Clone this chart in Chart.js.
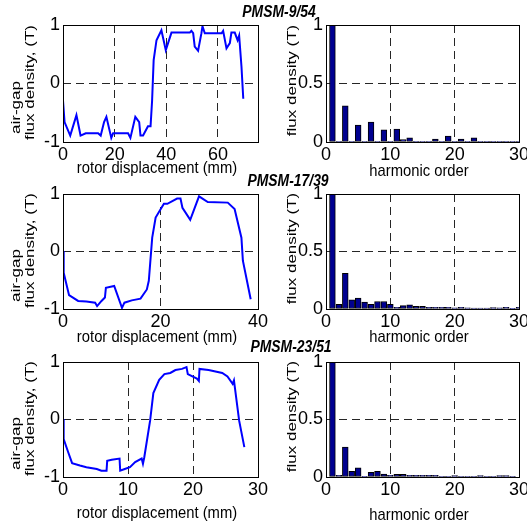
<!DOCTYPE html>
<html>
<head>
<meta charset="utf-8">
<script src="https://cdn.jsdelivr.net/npm/chart.js@4.4.0/dist/chart.umd.min.js"></script>
<style>
  body { margin: 0; background: #fff; }
  #fig { position: relative; width: 527px; height: 524px; }
  #fig canvas { position: absolute; left: 0; top: 0; }
</style>
</head>
<body>
<div id="fig">
  <canvas id="g1" width="527" height="524"></canvas>
  <canvas id="g2" width="527" height="524"></canvas>
  <canvas id="g3" width="527" height="524"></canvas>
  <canvas id="g4" width="527" height="524"></canvas>
  <canvas id="g5" width="527" height="524"></canvas>
  <canvas id="g6" width="527" height="524"></canvas>
</div>
<script>
// induction dans l'entrefer (T) selon le déplacement du rotor (mm)
const pos954 = [0, 0.6, 2.8, 5.2, 6.8, 8.8, 13.6, 14.6, 15.9, 16.8, 18.7, 19.4, 25.2, 26.1, 28.0, 29.5, 30.0, 31.0, 32.9, 33.9, 34.5, 35.1, 36.2, 38.1, 39.8, 42.0, 49.1, 49.7, 50.4, 51.0, 52.3, 53.6, 54.0, 54.9, 61.4, 62.0, 63.3, 64.6, 65.2, 66.5, 67.6, 68.2, 69.1, 69.8];
const flux954 = [-0.29, -0.66, -0.89, -0.54, -0.89, -0.85, -0.85, -0.89, -0.66, -0.57, -0.93, -0.85, -0.85, -0.93, -0.57, -0.66, -0.89, -0.89, -0.73, -0.73, -0.29, 0.40, 0.74, 0.91, 0.57, 0.87, 0.87, 0.90, 0.86, 0.63, 0.56, 0.86, 0.98, 0.86, 0.86, 0.90, 0.60, 0.69, 0.87, 0.87, 0.74, 0.82, 0.29, -0.26];

const pos1739 = [0, 0.14, 1.24, 3.1, 4.8, 6.6, 7.0, 7.9, 8.6, 8.8, 10.5, 12.1, 12.6, 14.1, 15.9, 17.2, 17.6, 18.3, 19.0, 20.7, 21.4, 23.4, 24.1, 24.5, 26.1, 27.9, 29.7, 33.8, 35.2, 36.6, 36.9, 38.5];
const flux1739 = [0.01, -0.37, -0.76, -0.86, -0.87, -0.89, -0.95, -0.86, -0.80, -0.63, -0.60, -0.98, -0.89, -0.85, -0.82, -0.66, -0.51, 0.24, 0.59, 0.83, 0.83, 0.92, 0.92, 0.76, 0.55, 0.96, 0.86, 0.85, 0.74, 0.24, -0.16, -0.83];

const pos2351 = [0, 0.1, 0.8, 1.4, 2.6, 3.6, 5.2, 5.9, 6.7, 6.8, 7.5, 8.7, 8.8, 9.5, 10.3, 11.1, 12.1, 12.3, 12.5, 13.4, 13.9, 14.8, 15.6, 16.5, 17.3, 18.3, 19.0, 19.2, 20.6, 20.9, 21.0, 22.4, 24.5, 25.3, 26.1, 26.3, 27.1, 27.9];
const flux2351 = [0.01, -0.34, -0.57, -0.76, -0.80, -0.83, -0.86, -0.89, -0.89, -0.72, -0.70, -0.68, -0.89, -0.86, -0.83, -0.74, -0.68, -0.77, -0.66, -0.02, 0.46, 0.69, 0.79, 0.81, 0.86, 0.88, 0.91, 0.79, 0.71, 0.67, 0.88, 0.86, 0.81, 0.75, 0.62, 0.68, -0.02, -0.48];

// spectre : amplitude (T) par rang d'harmonique
const rangs = [1, 2, 3, 4, 5, 6, 7, 8, 9, 10, 11, 12, 13, 14, 15, 16, 17, 18, 19, 20, 21, 22, 23, 24, 25, 26, 27, 28, 29, 30];
const harm954 = [1, 0.005, 0.31, 0.005, 0.145, 0.005, 0.17, 0.005, 0.105, 0.005, 0.11, 0.02, 0.035, 0.005, 0.005, 0.005, 0.025, 0.005, 0.05, 0.005, 0.025, 0.005, 0.035, 0.005, 0.005, 0.005, 0.005, 0.005, 0.005, 0.005];
const harm1739 = [1, 0.04, 0.31, 0.08, 0.095, 0.06, 0.04, 0.065, 0.065, 0.04, 0.015, 0.03, 0.037, 0.023, 0.023, 0.015, 0.015, 0.015, 0.015, 0.01, 0.015, 0.01, 0.008, 0.008, 0.008, 0.012, 0.01, 0.015, 0.006, 0.015];
const harm2351 = [1, 0.015, 0.26, 0.05, 0.08, 0.006, 0.04, 0.05, 0.025, 0.015, 0.023, 0.023, 0.015, 0.015, 0.015, 0.015, 0.015, 0.005, 0.005, 0.012, 0.005, 0.005, 0.005, 0.012, 0.005, 0.005, 0.012, 0.012, 0.005, 0];

// graduations
const gradDep954 = [0, 20, 40, 60];
const gradDep1739 = [0, 20, 40];
const gradDep2351 = [0, 10, 20, 30];
const gradFlux = [-1, 0, 1];
const gradRang = [0, 10, 20, 30];
const gradSpectre = [0, 0.5, 1];

const titres = ['PMSM-9/54', 'PMSM-17/39', 'PMSM-23/51'];

const LARGEUR = 527, HAUTEUR = 524;
const police = "'Liberation Sans Narrow', 'Liberation Sans', Arial, sans-serif";
const texteStd = "17px 'Liberation Sans', Arial, sans-serif";
const texteTitre = "italic bold 16px 'Liberation Sans', Arial, sans-serif";

// cadre noir autour du tracé + textes libres (labels, titres)
function calque(textes) {
  return {
    id: 'calque',
    afterDraw(chart) {
      const ctx = chart.ctx, a = chart.chartArea;
      ctx.save();
      ctx.strokeStyle = '#000';
      ctx.lineWidth = 1;
      ctx.strokeRect(a.left + 0.5, a.top + 0.5, a.right - a.left, a.bottom - a.top);
      ctx.fillStyle = '#000';
      ctx.textAlign = 'center';
      ctx.textBaseline = 'middle';
      textes.forEach(function(t) {
        ctx.save();
        ctx.font = t.font || texteStd;
        ctx.translate(t.x, t.y);
        // texte un peu étroit, comme sur la figure d'origine
        ctx.scale(t.vertical ? 0.8 : 0.87, 1);
        if (t.vertical) ctx.rotate(-Math.PI / 2);
        ctx.fillText(t.texte, 0, 0);
        ctx.restore();
      });
      ctx.restore();
    }
  };
}

function axe(min, max, grad, vertical, pad) {
  return {
    type: 'linear',
    min: min,
    max: max,
    offset: false,
    afterBuildTicks: function(s) { s.ticks = grad.map(v => ({ value: v })); },
    afterFit: function(s) {
      if (vertical) { s.width = 40; s.paddingTop = 0; s.paddingBottom = 0; }
      else { s.height = 40; s.paddingLeft = 0; s.paddingRight = 0; }
    },
    grid: {
      offset: false,
      drawTicks: false,
      lineWidth: 1,
      color: c => (c.tick && c.tick.value > min && c.tick.value < max) ? 'rgba(0,0,0,0.85)' : 'rgba(0,0,0,0)'
    },
    border: { display: false, dash: [8, 5] },
    ticks: {
      padding: pad,
      color: '#000',
      font: { family: police, size: 18 },
      autoSkip: false,
      maxRotation: 0,
      callback: v => String(v)
    }
  };
}

function options(zone, echX, echY) {
  return {
    responsive: false,
    animation: false,
    devicePixelRatio: 1,
    layout: { padding: { left: zone.g - 40, top: zone.h, right: LARGEUR - zone.d, bottom: HAUTEUR - zone.b - 40 } },
    plugins: { legend: { display: false }, tooltip: { enabled: false }, title: { display: false } },
    scales: { x: echX, y: echY }
  };
}

function courbe(id, zone, pos, flux, xmax, grad, textes) {
  const points = pos.map((x, i) => ({ x: x, y: flux[i] }));
  return new Chart(document.getElementById(id), {
    type: 'line',
    data: { datasets: [{ data: points, borderColor: '#0000ff', borderWidth: 2, pointRadius: 0, tension: 0, fill: false }] },
    options: options(zone, axe(0, xmax, grad, false, 2), axe(-1, 1, gradFlux, true, 3)),
    plugins: [calque(textes)]
  });
}

function spectre(id, zone, valeurs, textes) {
  const barres = rangs.map((r, i) => ({ x: r, y: valeurs[i] }));
  return new Chart(document.getElementById(id), {
    type: 'bar',
    data: { datasets: [{ data: barres, backgroundColor: '#000090', borderColor: '#000', borderWidth: 1,
                         barThickness: 5.8, borderSkipped: false }] },
    options: options(zone, axe(0, 30, gradRang, false, 2), axe(0, 1, gradSpectre, true, 3)),
    plugins: [calque(textes)]
  });
}

// une ligne de la figure : forme d'onde à gauche, spectre à droite
const lignes = [
  { h: 25, b: 142, pos: pos954, flux: flux954, xmax: 75.5, grad: gradDep954, harm: harm954, titre: titres[0], tx: 279, ty: 13, yDep: 168, yRang: 171 },
  { h: 194, b: 309, pos: pos1739, flux: flux1739, xmax: 40, grad: gradDep1739, harm: harm1739, titre: titres[1], tx: 288, ty: 182, yDep: 337, yRang: 337 },
  { h: 362, b: 477, pos: pos2351, flux: flux2351, xmax: 30, grad: gradDep2351, harm: harm2351, titre: titres[2], tx: 291, ty: 348, yDep: 513, yRang: 515 }
];

lignes.forEach(function(l, k) {
  const milieu = (l.h + l.b) / 2;
  courbe('g' + (2 * k + 1), { g: 63, d: 258, h: l.h, b: l.b }, l.pos, l.flux, l.xmax, l.grad, [
    { texte: 'air-gap', x: 16, y: milieu + 24, vertical: true },
    { texte: 'flux density, (T)', x: 30, y: milieu - 1, vertical: true },
    { texte: 'rotor displacement (mm)', x: 157, y: l.yDep }
  ]);
  spectre('g' + (2 * k + 2), { g: 326, d: 519, h: l.h, b: l.b }, l.harm, [
    { texte: 'flux density (T)', x: 292, y: milieu - 3, vertical: true },
    { texte: 'harmonic order', x: 419, y: l.yRang },
    { texte: l.titre, x: l.tx, y: l.ty, font: texteTitre }
  ]);
});
</script>
</body>
</html>
